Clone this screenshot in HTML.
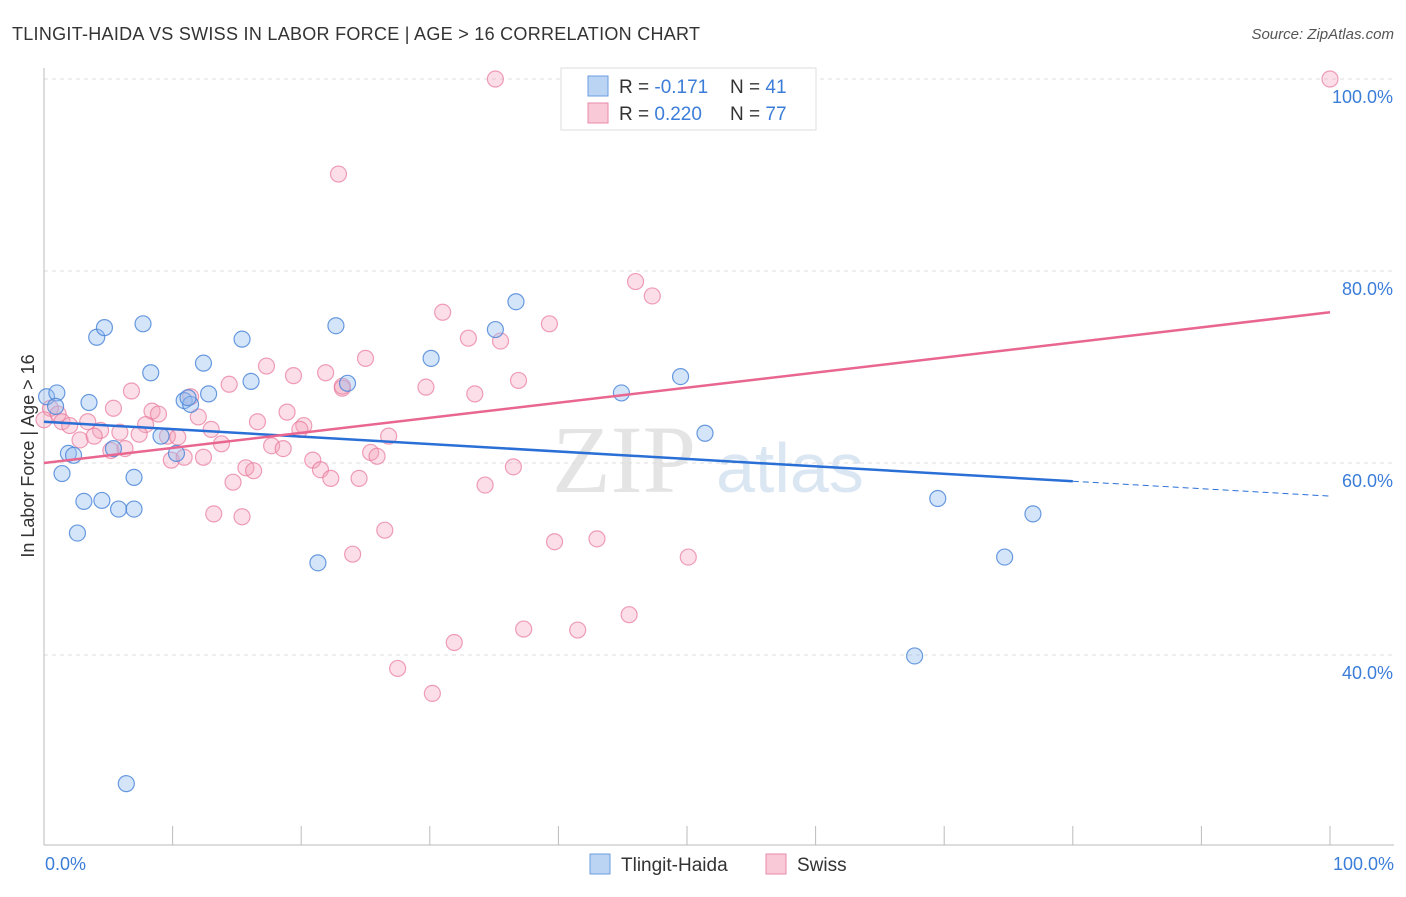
<!DOCTYPE html>
<html><head><meta charset="utf-8"><style>
body{margin:0;background:#fff;font-family:"Liberation Sans",sans-serif}
</style></head><body>
<svg id="c" width="1406" height="892" xmlns="http://www.w3.org/2000/svg">
<text x="12" y="40" font-size="18" fill="#333" textLength="688">TLINGIT-HAIDA VS SWISS IN LABOR FORCE | AGE &gt; 16 CORRELATION CHART</text>
<text x="1394" y="39" font-size="15" fill="#555" font-style="italic" text-anchor="end">Source: ZipAtlas.com</text>
<text x="552" y="492" font-size="96" fill="#e4e4e4" font-family="Liberation Serif,serif">ZIP</text>
<text x="716" y="492" font-size="70" fill="#dbe6f3">atlas</text>
<g id="grid"></g><g id="axes"></g><g id="pts"></g><g id="trend"></g>
<text transform="translate(34,456) rotate(-90)" font-size="18" fill="#333" text-anchor="middle">In Labor Force | Age &gt; 16</text>
<text x="45" y="870" font-size="18" fill="#3b7dd8">0.0%</text>
<text x="1394" y="870" font-size="18" fill="#3b7dd8" text-anchor="end">100.0%</text>
<g>
<rect x="561" y="68" width="255" height="62" fill="#fff" stroke="#ddd"/>
<rect x="588" y="76" width="20" height="20" fill="#bcd4f3" stroke="#6a9be0"/>
<rect x="588" y="103" width="20" height="20" fill="#f9c9d7" stroke="#ea8aa8"/>
<text x="619" y="93" font-size="19" fill="#333">R = <tspan fill="#3b7dd8">-0.171</tspan></text>
<text x="730" y="93" font-size="19" fill="#333">N = <tspan fill="#3b7dd8">41</tspan></text>
<text x="619" y="120" font-size="19" fill="#333">R = <tspan fill="#3b7dd8">0.220</tspan></text>
<text x="730" y="120" font-size="19" fill="#333">N = <tspan fill="#3b7dd8">77</tspan></text>
</g>
<g>
<rect x="590" y="854" width="20" height="20" fill="#bcd4f3" stroke="#6a9be0"/>
<text x="621" y="871" font-size="19" fill="#333">Tlingit-Haida</text>
<rect x="766" y="854" width="20" height="20" fill="#f9c9d7" stroke="#ea8aa8"/>
<text x="797" y="871" font-size="19" fill="#333">Swiss</text>
</g>
</svg>
<script>
const yTicks=[100,80,60,40];
const yTickLabels=["100.0%","80.0%","60.0%","40.0%"];
const xTicks=[0,10,20,30,40,50,60,70,80,90,100];
const blueX=[0.2,1,0.9,3.5,4.1,4.7,7.7,8.3,12.4,15.4,16.1,12.8,10.9,11.4,11.2,9.1,10.3,1.9,2.3,5.4,1.4,7,3.1,4.5,5.8,7,2.6,6.4,21.3,22.7,23.6,30.1,35.1,36.7,44.9,49.5,51.4,69.5,74.7,76.9,67.7];
const blueY=[66.9,67.3,65.9,66.3,73.1,74.1,74.5,69.4,70.4,72.9,68.5,67.2,66.5,66.1,66.8,62.8,61,61,60.8,61.5,58.9,58.5,56,56.1,55.2,55.2,52.7,26.6,49.6,74.3,68.3,70.9,73.9,76.8,67.3,69,63.1,56.3,50.2,54.7,39.9];
const pinkX=[35.1,100,22.9,46,47.3,31,39.3,33,35.5,25,17.3,36.9,29.7,33.5,19.4,21.9,23.2,14.4,6.8,8.4,8.9,5.4,0.5,1.1,1.4,2,3.4,4.4,2.8,3.9,5.9,7.9,7.4,9.6,10.4,12,13,13.8,16.6,18.9,20.2,19.9,17.7,18.6,20.9,21.5,22.3,24.5,25.4,25.9,26.8,15.7,16.3,14.7,13.2,15.4,9.9,10.9,12.4,5.2,6.3,23.2,11.4,34.3,36.5,24,26.5,39.7,43,50.1,45.5,41.5,37.3,31.9,27.5,30.2,0];
const pinkY=[100,100,90.1,78.9,77.4,75.7,74.5,73,72.7,70.9,70.1,68.6,67.9,67.2,69.1,69.4,67.8,68.2,67.5,65.4,65.1,65.7,65.7,65.1,64.3,63.9,64.3,63.4,62.4,62.8,63.2,64,63,62.8,62.7,64.8,63.5,62,64.3,65.3,63.9,63.5,61.8,61.5,60.3,59.3,58.4,58.4,61.1,60.7,62.8,59.5,59.2,58,54.7,54.4,60.3,60.6,60.6,61.3,61.5,68,66.9,57.7,59.6,50.5,53,51.8,52.1,50.2,44.2,42.6,42.7,41.3,38.6,36,64.5];
const blueTrendY=[64.3,58.1];   // at x=0 and x=80 (solid), dashed to 100
const pinkTrendY=[60.0,75.7];   // at x=0 and x=100
const X0=44,X1=1330,Y100=79,PX=9.6;
const xs=v=>X0+(X1-X0)*v/100, ys=v=>Y100+(100-v)*PX;
const NS="http://www.w3.org/2000/svg";
function mk(t,a,p){const e=document.createElementNS(NS,t);for(const k in a)e.setAttribute(k,a[k]);document.getElementById(p).appendChild(e);return e;}
yTicks.forEach((v,i)=>{
 const l=mk('line',{x1:44,x2:1394,y1:ys(v),y2:ys(v),stroke:'#ddd','stroke-dasharray':'4,4'},'grid');
 
 
 const t=mk('text',{x:1393,y:ys(v)+24,'font-size':18,fill:'#3b7dd8','text-anchor':'end'},'grid');
 t.textContent=yTickLabels[i];
 
 
});
mk('line',{x1:44,x2:44,y1:68,y2:845,stroke:'#bbb'},'axes');
mk('line',{x1:44,x2:1394,y1:845,y2:845,stroke:'#bbb'},'axes');
xTicks.forEach(v=>{const l=mk('line',{x1:xs(v),x2:xs(v),y1:826,y2:845,stroke:'#bbb'},'axes');
 
 });
pinkX.forEach((v,i)=>{const c=mk('circle',{cx:xs(v),cy:ys(pinkY[i]),r:8,fill:'rgba(244,160,185,0.35)',stroke:'rgba(232,120,155,0.7)','stroke-width':1.2},'pts');
 
 });
blueX.forEach((v,i)=>{const c=mk('circle',{cx:xs(v),cy:ys(blueY[i]),r:8,fill:'rgba(150,190,240,0.4)',stroke:'rgba(70,130,215,0.8)','stroke-width':1.2},'pts');
 
 });
const bSlope=(blueTrendY[1]-blueTrendY[0])/80;
let l=mk('line',{x1:xs(0),y1:ys(blueTrendY[0]),x2:xs(80),y2:ys(blueTrendY[1]),stroke:'#2a6fd6','stroke-width':2.5},'trend');


l=mk('line',{x1:xs(80),y1:ys(blueTrendY[1]),x2:xs(100),y2:ys(blueTrendY[1]+bSlope*20),stroke:'#2a6fd6','stroke-width':1,'stroke-dasharray':'6,4'},'trend');


l=mk('line',{x1:xs(0),y1:ys(pinkTrendY[0]),x2:xs(100),y2:ys(pinkTrendY[1]),stroke:'#e8668f','stroke-width':2.5},'trend');


</script>
</body></html>
